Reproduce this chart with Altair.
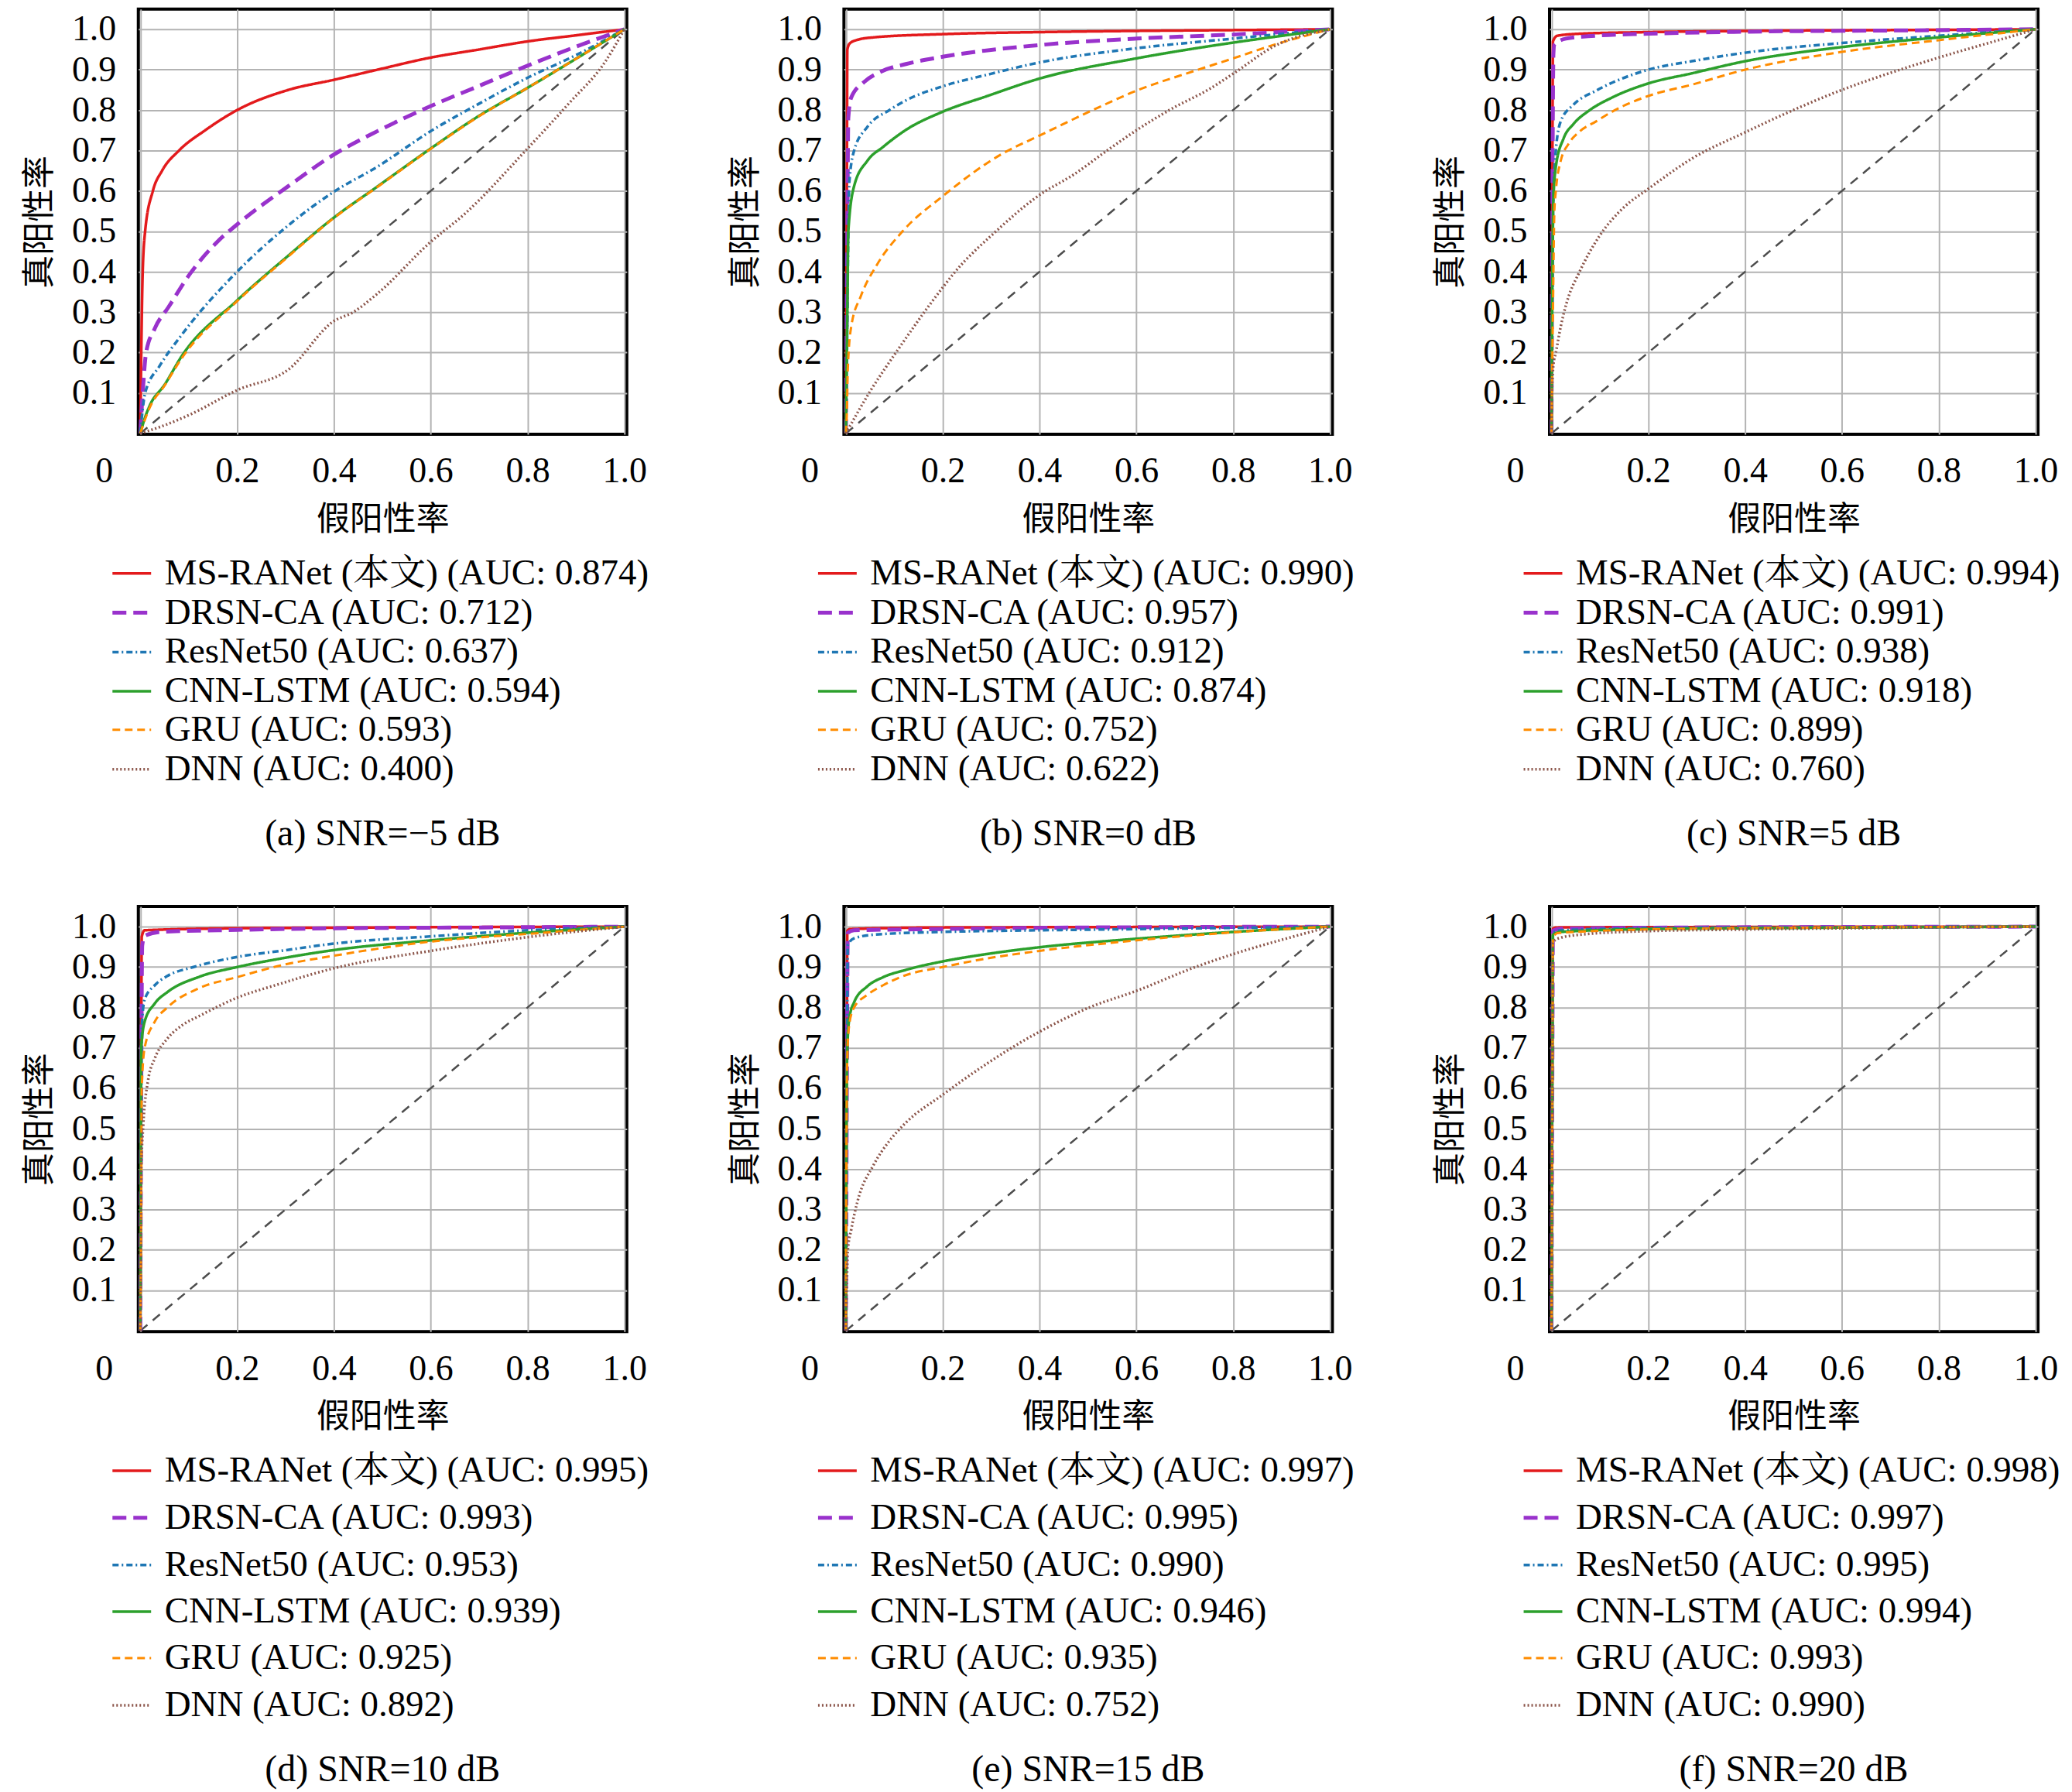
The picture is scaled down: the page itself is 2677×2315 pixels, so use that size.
import altair as alt
import pandas as pd

# ---------------- data ----------------
MODELS = ["MS-RANet (本文)", "DRSN-CA", "ResNet50", "CNN-LSTM", "GRU", "DNN"]
COLORS = ["#e31a1c", "#9932cc", "#1f77b4", "#2ca02c", "#ff8c00", "#8c564b"]
DASHES = [[1, 0], [18, 9], [8, 4, 2, 4], [1, 0], [10, 6], [2, 3]]
WIDTHS = [3.5, 5.0, 3.5, 3.5, 3.0, 3.5]

CAPTIONS = ["(a) SNR=−5 dB", "(b) SNR=0 dB", "(c) SNR=5 dB",
            "(d) SNR=10 dB", "(e) SNR=15 dB", "(f) SNR=20 dB"]

AUC_A = [0.874, 0.712, 0.637, 0.594, 0.593, 0.400]
AUC_B = [0.990, 0.957, 0.912, 0.874, 0.752, 0.622]
AUC_C = [0.994, 0.991, 0.938, 0.918, 0.899, 0.760]
AUC_D = [0.995, 0.993, 0.953, 0.939, 0.925, 0.892]
AUC_E = [0.997, 0.995, 0.990, 0.946, 0.935, 0.752]
AUC_F = [0.998, 0.997, 0.995, 0.994, 0.993, 0.990]

# panel (a) SNR=-5 dB
A_RED_X = [0, 0.002, 0.005, 0.01, 0.026, 0.045, 0.08, 0.134, 0.2, 0.306, 0.4, 0.49, 0.6, 0.7, 0.8, 0.9, 1.0]
A_RED_Y = [0, 0.2, 0.4, 0.5, 0.6, 0.65, 0.7, 0.75, 0.8, 0.85, 0.875, 0.9, 0.93, 0.95, 0.97, 0.985, 1.0]
A_PUR_X = [0, 0.005, 0.012, 0.03, 0.058, 0.104, 0.159, 0.2, 0.306, 0.4, 0.49, 0.6, 0.7, 0.8, 0.9, 1.0]
A_PUR_Y = [0, 0.1, 0.2, 0.26, 0.312, 0.397, 0.474, 0.517, 0.612, 0.69, 0.748, 0.81, 0.86, 0.91, 0.957, 1.0]
A_BLU_X = [0, 0.005, 0.01, 0.04, 0.085, 0.2, 0.306, 0.4, 0.49, 0.6, 0.7, 0.8, 0.9, 1.0]
A_BLU_Y = [0, 0.06, 0.1, 0.167, 0.243, 0.4, 0.515, 0.598, 0.66, 0.748, 0.816, 0.88, 0.936, 1.0]
A_GRN_X = [0, 0.01, 0.02, 0.05, 0.085, 0.2, 0.306, 0.4, 0.49, 0.6, 0.7, 0.8, 0.9, 1.0]
A_GRN_Y = [0, 0.04, 0.07, 0.12, 0.19, 0.329, 0.44, 0.534, 0.611, 0.705, 0.786, 0.855, 0.927, 1.0]
A_ORG_X = [0, 0.01, 0.02, 0.05, 0.085, 0.2, 0.306, 0.4, 0.49, 0.6, 0.7, 0.8, 0.9, 1.0]
A_ORG_Y = [0, 0.035, 0.065, 0.118, 0.185, 0.327, 0.438, 0.533, 0.61, 0.704, 0.785, 0.855, 0.927, 1.0]
A_BRN_X = [0, 0.05, 0.1, 0.2, 0.306, 0.4, 0.44, 0.49, 0.6, 0.67, 0.8, 0.885, 0.96, 1.0]
A_BRN_Y = [0, 0.02, 0.045, 0.107, 0.158, 0.278, 0.30, 0.346, 0.474, 0.543, 0.705, 0.816, 0.919, 1.0]

# panel (b) SNR=0 dB
B_RED_X = [0, 0.002, 0.003, 0.008, 0.024, 0.057, 0.2, 0.4, 0.6, 0.8, 1.0]
B_RED_Y = [0, 0.6, 0.95, 0.965, 0.974, 0.98, 0.988, 0.993, 0.996, 0.998, 1.0]
B_PUR_X = [0, 0.003, 0.005, 0.011, 0.037, 0.07, 0.124, 0.2, 0.4, 0.6, 0.8, 1.0]
B_PUR_Y = [0, 0.5, 0.78, 0.831, 0.869, 0.894, 0.914, 0.932, 0.961, 0.977, 0.987, 1.0]
B_BLU_X = [0, 0.003, 0.005, 0.007, 0.017, 0.044, 0.09, 0.124, 0.2, 0.29, 0.4, 0.6, 0.8, 0.92, 1.0]
B_BLU_Y = [0, 0.3, 0.5, 0.62, 0.70, 0.758, 0.80, 0.824, 0.859, 0.887, 0.918, 0.953, 0.977, 0.991, 1.0]
B_GRN_X = [0, 0.003, 0.005, 0.017, 0.044, 0.077, 0.124, 0.2, 0.29, 0.4, 0.6, 0.8, 0.92, 1.0]
B_GRN_Y = [0, 0.3, 0.5, 0.612, 0.674, 0.709, 0.751, 0.796, 0.834, 0.878, 0.928, 0.967, 0.987, 1.0]
B_ORG_X = [0, 0.002, 0.004, 0.011, 0.031, 0.064, 0.117, 0.2, 0.323, 0.4, 0.51, 0.6, 0.72, 0.8, 0.888, 1.0]
B_ORG_Y = [0, 0.05, 0.16, 0.264, 0.34, 0.417, 0.50, 0.587, 0.692, 0.737, 0.80, 0.848, 0.897, 0.928, 0.963, 1.0]
B_BRN_X = [0, 0.05, 0.104, 0.2, 0.223, 0.31, 0.4, 0.47, 0.542, 0.6, 0.668, 0.755, 0.8, 0.888, 1.0]
B_BRN_Y = [0, 0.104, 0.201, 0.361, 0.396, 0.50, 0.59, 0.64, 0.702, 0.75, 0.80, 0.855, 0.89, 0.96, 1.0]

# panel (c) SNR=5 dB
C_RED_X = [0, 0.002, 0.003, 0.012, 0.058, 0.2, 0.4, 0.7, 1.0]
C_RED_Y = [0, 0.7, 0.97, 0.984, 0.989, 0.993, 0.996, 0.998, 1.0]
C_PUR_X = [0, 0.002, 0.004, 0.006, 0.03, 0.09, 0.2, 0.4, 0.7, 1.0]
C_PUR_Y = [0, 0.6, 0.94, 0.962, 0.977, 0.984, 0.989, 0.994, 0.997, 1.0]
C_BLU_X = [0, 0.002, 0.004, 0.009, 0.019, 0.045, 0.092, 0.2, 0.29, 0.4, 0.6, 0.8, 1.0]
C_BLU_Y = [0, 0.4, 0.6, 0.70, 0.772, 0.813, 0.848, 0.90, 0.921, 0.942, 0.966, 0.984, 1.0]
C_GRN_X = [0, 0.002, 0.004, 0.009, 0.025, 0.045, 0.079, 0.125, 0.2, 0.29, 0.4, 0.6, 0.8, 1.0]
C_GRN_Y = [0, 0.4, 0.58, 0.66, 0.73, 0.765, 0.80, 0.831, 0.866, 0.891, 0.921, 0.956, 0.98, 1.0]
C_ORG_X = [0, 0.003, 0.006, 0.009, 0.019, 0.035, 0.058, 0.092, 0.125, 0.2, 0.29, 0.4, 0.6, 0.8, 1.0]
C_ORG_Y = [0, 0.3, 0.55, 0.6, 0.674, 0.716, 0.747, 0.772, 0.796, 0.835, 0.863, 0.90, 0.944, 0.973, 1.0]
C_BRN_X = [0, 0.001, 0.004, 0.009, 0.019, 0.032, 0.058, 0.1, 0.15, 0.2, 0.29, 0.4, 0.49, 0.6, 0.72, 0.8, 0.92, 1.0]
C_BRN_Y = [0, 0.1, 0.17, 0.2, 0.264, 0.326, 0.40, 0.49, 0.56, 0.605, 0.68, 0.745, 0.795, 0.85, 0.90, 0.93, 0.972, 1.0]

# panel (d) SNR=10 dB
D_RED_X = [0, 0.002, 0.003, 0.009, 0.2, 0.5, 1.0]
D_RED_Y = [0, 0.7, 0.975, 0.991, 0.996, 0.998, 1.0]
D_PUR_X = [0, 0.002, 0.004, 0.009, 0.042, 0.2, 0.4, 0.7, 1.0]
D_PUR_Y = [0, 0.6, 0.953, 0.977, 0.987, 0.992, 0.996, 0.998, 1.0]
D_BLU_X = [0, 0.002, 0.003, 0.009, 0.03, 0.056, 0.11, 0.2, 0.29, 0.4, 0.6, 0.8, 1.0]
D_BLU_Y = [0, 0.5, 0.75, 0.82, 0.855, 0.878, 0.90, 0.925, 0.94, 0.958, 0.976, 0.991, 1.0]
D_GRN_X = [0, 0.001, 0.002, 0.009, 0.03, 0.056, 0.122, 0.2, 0.29, 0.4, 0.6, 0.8, 1.0]
D_GRN_Y = [0, 0.4, 0.7, 0.765, 0.81, 0.838, 0.876, 0.9, 0.921, 0.942, 0.966, 0.985, 1.0]
D_ORG_X = [0, 0.002, 0.003, 0.009, 0.03, 0.056, 0.122, 0.2, 0.29, 0.4, 0.6, 0.8, 1.0]
D_ORG_Y = [0, 0.3, 0.6, 0.70, 0.765, 0.80, 0.848, 0.875, 0.904, 0.928, 0.963, 0.982, 1.0]
D_BRN_X = [0, 0.001, 0.002, 0.006, 0.016, 0.03, 0.056, 0.089, 0.122, 0.2, 0.29, 0.4, 0.6, 0.8, 1.0]
D_BRN_Y = [0, 0.2, 0.4, 0.507, 0.619, 0.674, 0.723, 0.758, 0.779, 0.824, 0.859, 0.897, 0.94, 0.974, 1.0]

# panel (e) SNR=15 dB
E_RED_X = [0, 0.002, 0.003, 0.008, 0.2, 0.6, 1.0]
E_RED_Y = [0, 0.7, 0.99, 0.994, 0.998, 0.999, 1.0]
E_PUR_X = [0, 0.002, 0.004, 0.017, 0.2, 0.4, 0.7, 1.0]
E_PUR_Y = [0, 0.6, 0.985, 0.991, 0.994, 0.997, 0.999, 1.0]
E_BLU_X = [0, 0.002, 0.004, 0.017, 0.057, 0.2, 0.4, 0.6, 1.0]
E_BLU_Y = [0, 0.6, 0.955, 0.971, 0.98, 0.987, 0.991, 0.994, 1.0]
E_GRN_X = [0, 0.001, 0.003, 0.007, 0.017, 0.044, 0.077, 0.124, 0.2, 0.29, 0.4, 0.6, 0.8, 1.0]
E_GRN_Y = [0, 0.5, 0.70, 0.772, 0.813, 0.852, 0.875, 0.893, 0.914, 0.932, 0.949, 0.97, 0.987, 1.0]
E_ORG_X = [0, 0.001, 0.003, 0.007, 0.017, 0.044, 0.077, 0.124, 0.2, 0.29, 0.4, 0.6, 0.8, 1.0]
E_ORG_Y = [0, 0.4, 0.68, 0.758, 0.80, 0.831, 0.855, 0.88, 0.9, 0.921, 0.94, 0.966, 0.986, 1.0]
E_BRN_X = [0, 0.002, 0.004, 0.011, 0.024, 0.057, 0.09, 0.124, 0.2, 0.29, 0.4, 0.503, 0.6, 0.722, 0.8, 0.92, 1.0]
E_BRN_Y = [0, 0.12, 0.2, 0.25, 0.32, 0.41, 0.47, 0.515, 0.584, 0.66, 0.74, 0.80, 0.841, 0.90, 0.932, 0.974, 1.0]

# panel (f) SNR=20 dB
F_RED_X = [0, 0.002, 0.003, 0.01, 0.3, 1.0]
F_RED_Y = [0, 0.8, 0.995, 0.998, 0.999, 1.0]
F_PUR_X = [0, 0.002, 0.003, 0.02, 0.3, 1.0]
F_PUR_Y = [0, 0.7, 0.99, 0.995, 0.998, 1.0]
F_BLU_X = [0, 0.002, 0.003, 0.019, 0.2, 0.5, 1.0]
F_BLU_Y = [0, 0.7, 0.985, 0.991, 0.996, 0.998, 1.0]
F_GRN_X = [0, 0.002, 0.003, 0.02, 0.2, 0.4, 1.0]
F_GRN_Y = [0, 0.7, 0.98, 0.987, 0.994, 0.996, 1.0]
F_ORG_X = [0, 0.002, 0.003, 0.012, 0.2, 0.4, 1.0]
F_ORG_Y = [0, 0.6, 0.97, 0.984, 0.993, 0.996, 1.0]
F_BRN_X = [0, 0.001, 0.003, 0.012, 0.058, 0.2, 0.4, 0.6, 1.0]
F_BRN_Y = [0, 0.5, 0.96, 0.97, 0.98, 0.989, 0.993, 0.996, 1.0]

DIAG_X = [0, 1]
DIAG_Y = [0, 1]

X_TICKS = [0, 0.2, 0.4, 0.6, 0.8, 1.0]
Y_TICKS = [0.1, 0.2, 0.3, 0.4, 0.5, 0.6, 0.7, 0.8, 0.9, 1.0]

PANELS = [
    (AUC_A, [(A_RED_X, A_RED_Y), (A_PUR_X, A_PUR_Y), (A_BLU_X, A_BLU_Y), (A_GRN_X, A_GRN_Y), (A_ORG_X, A_ORG_Y), (A_BRN_X, A_BRN_Y)]),
    (AUC_B, [(B_RED_X, B_RED_Y), (B_PUR_X, B_PUR_Y), (B_BLU_X, B_BLU_Y), (B_GRN_X, B_GRN_Y), (B_ORG_X, B_ORG_Y), (B_BRN_X, B_BRN_Y)]),
    (AUC_C, [(C_RED_X, C_RED_Y), (C_PUR_X, C_PUR_Y), (C_BLU_X, C_BLU_Y), (C_GRN_X, C_GRN_Y), (C_ORG_X, C_ORG_Y), (C_BRN_X, C_BRN_Y)]),
    (AUC_D, [(D_RED_X, D_RED_Y), (D_PUR_X, D_PUR_Y), (D_BLU_X, D_BLU_Y), (D_GRN_X, D_GRN_Y), (D_ORG_X, D_ORG_Y), (D_BRN_X, D_BRN_Y)]),
    (AUC_E, [(E_RED_X, E_RED_Y), (E_PUR_X, E_PUR_Y), (E_BLU_X, E_BLU_Y), (E_GRN_X, E_GRN_Y), (E_ORG_X, E_ORG_Y), (E_BRN_X, E_BRN_Y)]),
    (AUC_F, [(F_RED_X, F_RED_Y), (F_PUR_X, F_PUR_Y), (F_BLU_X, F_BLU_Y), (F_GRN_X, F_GRN_Y), (F_ORG_X, F_ORG_Y), (F_BRN_X, F_BRN_Y)]),
]

# ---------------- styling ----------------
W, H = 632, 550
SERIF = "Liberation Serif, Noto Serif CJK SC, Noto Sans CJK SC"
CJK = "Noto Sans CJK SC"
TICK_FS = 46
LEG_FS = 47

x_scale = alt.Scale(domain=[-0.004, 1.005], nice=False, zero=False)
y_scale = alt.Scale(domain=[-0.002, 1.05], nice=False, zero=False)

x_axis = alt.Axis(
    values=X_TICKS,
    labelExpr="datum.value == 0 ? '0' : format(datum.value, '.1f')",
    labelOffset={"condition": {"test": "datum.value == 0", "value": -47}, "value": 0},
    title="假阳性率", titleFont=CJK, titleFontSize=43, titleFontWeight="normal",
    titleColor="black", titlePadding=19,
    labelFont=SERIF, labelFontSize=TICK_FS, labelColor="black", labelPadding=26,
    ticks=False, tickSize=0, domain=False,
    grid=True, gridColor="#b3b3b3", gridWidth=2,
    labelFlush=False, labelOverlap=False,
)
y_axis = alt.Axis(
    values=Y_TICKS, format=".1f",
    title="真阳性率", titleFont=CJK, titleFontSize=43, titleFontWeight="normal",
    titleColor="black", titlePadding=19,
    labelFont=SERIF, labelFontSize=TICK_FS, labelColor="black", labelPadding=29,
    ticks=False, tickSize=0, domain=False,
    grid=True, gridColor="#b3b3b3", gridWidth=2,
    labelFlush=False, labelOverlap=False,
)


def panel(idx):
    aucs, curves = PANELS[idx]
    labels = [f"{m} (AUC: {a:.3f})" for m, a in zip(MODELS, aucs)]
    rows = []
    for lab, (xs, ys) in zip(labels, curves):
        for i, (xv, yv) in enumerate(zip(xs, ys)):
            rows.append({"fpr": xv, "tpr": yv, "label": lab, "i": i})
    df = pd.DataFrame(rows)
    diag = pd.DataFrame({"fpr": DIAG_X, "tpr": DIAG_Y})

    row_pad = 0.5 if idx < 3 else 10.5
    legend = alt.Legend(
        title=None, orient="none", legendX=-36, legendY=703,
        direction="vertical", symbolType="stroke", symbolSize=2500,
        labelFont=SERIF, labelFontSize=LEG_FS, labelColor="black",
        labelLimit=2000, labelOffset=15, rowPadding=row_pad, padding=0,
    )

    diag_line = alt.Chart(diag).mark_line(
        color="#4d4d4d", strokeDash=[12, 9], strokeWidth=2.5
    ).encode(
        x=alt.X("fpr:Q", scale=x_scale, axis=x_axis),
        y=alt.Y("tpr:Q", scale=y_scale, axis=y_axis),
    )

    lines = alt.Chart(df).mark_line(interpolate="monotone").encode(
        x=alt.X("fpr:Q", scale=x_scale, axis=x_axis),
        y=alt.Y("tpr:Q", scale=y_scale, axis=y_axis),
        color=alt.Color("label:N", scale=alt.Scale(domain=labels, range=COLORS), legend=legend),
        strokeDash=alt.StrokeDash("label:N", scale=alt.Scale(domain=labels, range=DASHES), legend=legend),
        strokeWidth=alt.StrokeWidth("label:N", scale=alt.Scale(type="ordinal", domain=labels, range=WIDTHS), legend=legend),
        order="i:Q",
    )

    return alt.layer(diag_line, lines).properties(
        width=W, height=H,
        title=alt.TitleParams(
            text=CAPTIONS[idx], orient="bottom", anchor="middle", frame="group",
            font=SERIF, fontSize=48, fontWeight="normal", color="black", offset=37,
        ),
    ).resolve_scale(color="independent", strokeDash="independent", strokeWidth="independent")


charts = [panel(k) for k in range(6)]
chart = alt.concat(
    *charts, columns=3, spacing={"row": 611, "column": 281}, bounds="flush",
).resolve_scale(
    color="independent", strokeDash="independent", strokeWidth="independent"
).properties(
    padding={"left": 20, "top": 0, "right": 5, "bottom": 5},
    background="white",
).configure_view(
    stroke="black", strokeWidth=4
)

chart.save("out.html", embed_options={"renderer": "svg", "actions": False})
